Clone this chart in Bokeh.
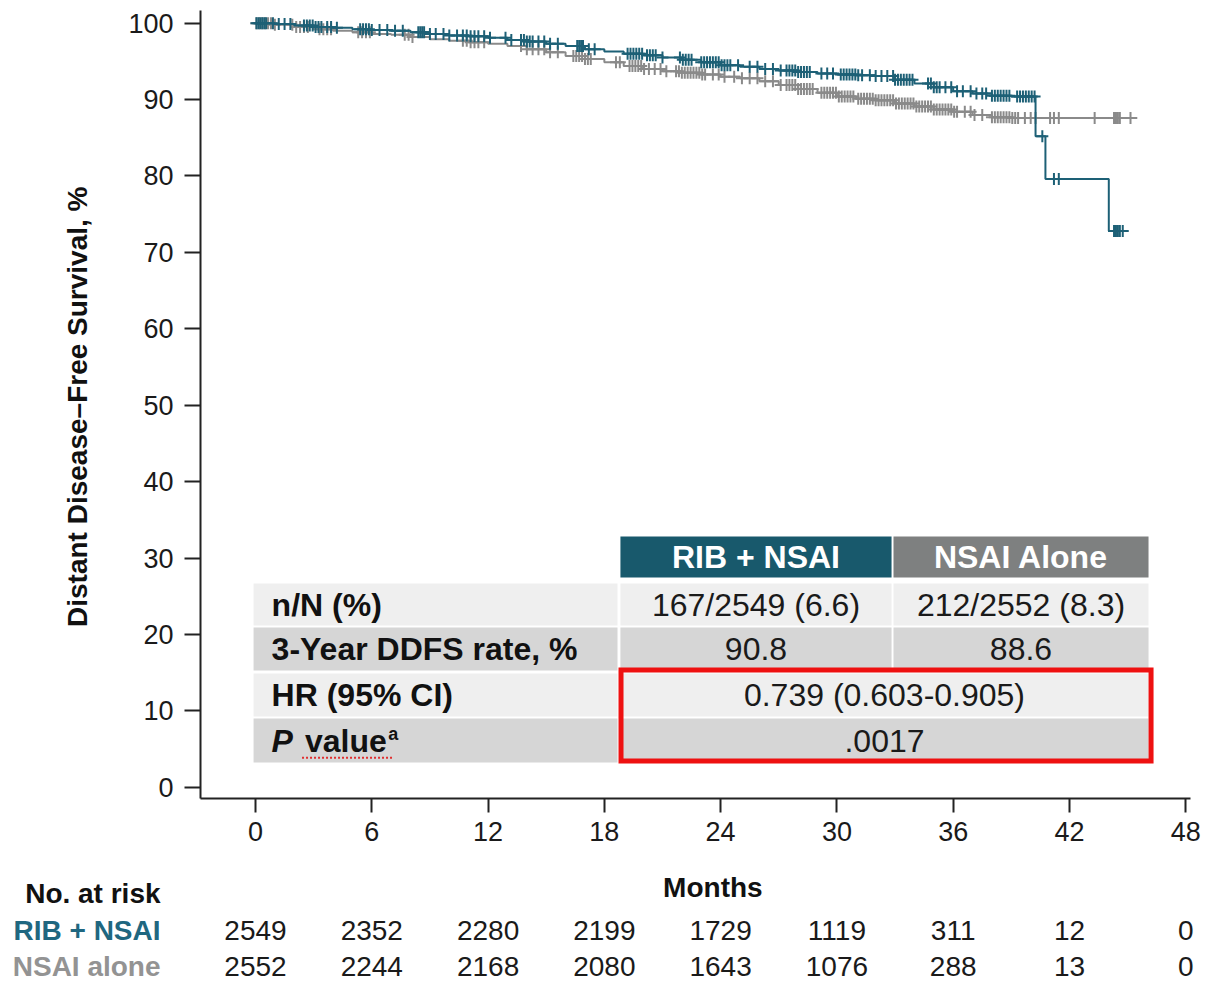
import numpy as np
from bokeh.plotting import figure
from bokeh.models import Range1d, FixedTicker
from bokeh.core.properties import value
from bokeh.embed import file_html
from bokeh.resources import INLINE

FONT = "Liberation Sans"
TEAL = "#1d6076"
TEAL_HDR = "#18596c"
GRAY = "#8a8a8a"
GRAY_HDR = "#7e8080"
TXT = "#1a1a1a"

# ---------------- data ----------------
x_ticks = [0, 6, 12, 18, 24, 30, 36, 42, 48]
y_ticks = [0, 10, 20, 30, 40, 50, 60, 70, 80, 90, 100]

risk_rib = [2549, 2352, 2280, 2199, 1729, 1119, 311, 12, 0]
risk_nsai = [2552, 2244, 2168, 2080, 1643, 1076, 288, 13, 0]

rib_time = [0, 1, 2, 3, 4, 5, 6, 7, 8, 9, 10, 11, 12, 13, 14, 15, 16, 17, 18, 19,
            20, 21, 22, 23, 24, 25, 26, 27, 28, 29, 30, 31, 32, 33, 34, 35, 36, 37,
            38, 39, 40.25, 40.76, 44.03]
rib_surv = [100, 99.9, 99.7, 99.5, 99.4, 99.2, 99.1, 99.0, 98.8, 98.6, 98.4, 98.3,
            98.1, 97.8, 97.6, 97.3, 97.0, 96.6, 96.3, 96.0, 95.8, 95.5, 95.2, 94.9,
            94.5, 94.3, 94.0, 93.8, 93.6, 93.4, 93.3, 93.2, 93.1, 92.6, 92.1, 91.6,
            91.1, 90.8, 90.5, 90.4, 85.2, 79.6, 72.8]
rib_end = 44.85

nsai_time = [0, 1, 2, 3, 4, 5, 6, 7, 8, 9, 10, 11, 12, 13, 14, 15, 16, 17, 18, 19,
             20, 21, 22, 23, 24, 25, 26, 27, 28, 29, 30, 31, 32, 33, 34, 35, 36, 37,
             38, 39]
nsai_surv = [100, 99.8, 99.5, 99.2, 99.0, 98.8, 98.6, 98.5, 98.2, 97.9, 97.7, 97.5,
             97.3, 97.0, 96.6, 96.2, 95.7, 95.3, 94.9, 94.4, 94.0, 93.7, 93.5, 93.3,
             93.0, 92.8, 92.4, 91.9, 91.4, 90.9, 90.4, 90.1, 89.9, 89.5, 89.1, 88.7,
             88.4, 88.0, 87.7, 87.6]
nsai_end = 45.5

rib_censor = [0.05, 0.15, 0.25, 0.35, 0.45, 0.55, 0.9, 1.2, 1.5, 1.8, 2.5, 2.65, 2.8,
              2.95, 3.1, 3.25, 3.4, 3.7, 3.9, 4.2, 5.4, 5.55, 5.7, 5.85, 6.0, 6.4, 6.8,
              7.2, 7.6, 8.4, 8.5, 8.6, 8.7, 9.0, 9.3, 9.7, 10.0, 10.4, 10.7, 10.9, 11.1,
              11.3, 11.5, 11.8, 12.1, 12.9, 13.2, 13.7, 13.85, 14.0, 14.15, 14.3, 14.6,
              14.9, 15.2, 15.6, 16.6, 16.7, 16.8, 16.9, 17.2, 17.5, 19.2, 19.35, 19.5,
              19.65, 19.8, 19.95, 20.2, 20.35, 20.5, 20.65, 21.0, 21.9, 22.05, 22.2,
              22.35, 22.5, 23.0, 23.15, 23.3, 23.45, 23.6, 23.75, 23.9, 24.05, 24.2,
              24.35, 24.5, 24.9, 25.5, 25.9, 26.3, 26.7, 27.1, 27.4, 27.55, 27.7, 27.85,
              28.0, 28.15, 28.3, 28.45, 28.6, 29.2, 29.5, 29.8, 30.2, 30.35, 30.5, 30.65,
              30.8, 30.95, 31.1, 31.3, 31.7, 32.0, 32.3, 32.6, 32.9, 33.0, 33.15, 33.3,
              33.45, 33.6, 33.75, 33.9, 34.7, 34.85, 35.0, 35.15, 35.3, 35.6, 35.9, 36.2,
              36.5, 36.9, 37.2, 37.5, 37.7, 38.0, 38.15, 38.3, 38.45, 38.6, 38.75, 38.9,
              39.3, 39.45, 39.6, 39.75, 39.9, 40.05, 40.2, 40.6, 41.2, 41.45, 44.3, 44.4,
              44.5, 44.6, 44.75]

nsai_censor = [0.05, 0.2, 0.35, 0.5, 0.65, 0.8, 1.0, 1.9, 2.1, 2.3, 2.5, 2.7, 3.3, 3.5,
               3.7, 3.9, 5.3, 5.5, 5.7, 5.9, 7.7, 7.9, 8.1, 10.7, 10.9, 11.1, 11.3, 11.5,
               11.8, 13.7, 14.0, 14.3, 14.6, 14.9, 15.2, 15.6, 16.4, 16.55, 16.7, 16.85,
               17.0, 17.15, 17.3, 18.6, 18.8, 19.3, 19.45, 19.6, 19.75, 19.9, 20.05, 20.3,
               20.6, 20.9, 21.2, 21.7, 21.85, 22.0, 22.15, 22.3, 22.45, 22.6, 22.75, 22.9,
               23.05, 23.2, 23.6, 23.9, 24.2, 24.7, 25.1, 25.5, 25.9, 26.3, 26.7, 27.1,
               27.4, 27.55, 27.7, 27.85, 28.0, 28.15, 28.3, 28.45, 28.6, 28.75, 29.2,
               29.35, 29.5, 29.65, 29.8, 29.95, 30.1, 30.25, 30.4, 30.55, 30.7, 30.85,
               31.1, 31.25, 31.4, 31.55, 31.7, 31.85, 32.0, 32.15, 32.3, 32.45, 32.6,
               32.75, 32.9, 33.05, 33.2, 33.35, 33.5, 33.65, 33.8, 33.95, 34.1, 34.25,
               34.4, 34.55, 34.7, 34.85, 35.0, 35.15, 35.3, 35.45, 35.6, 35.75, 35.9,
               36.05, 36.2, 36.6, 36.9, 37.1, 37.5, 38.0, 38.15, 38.3, 38.45, 38.6, 38.75,
               38.9, 39.05, 39.2, 39.35, 39.7, 40.0, 40.25, 41.0, 41.2, 41.45, 43.3, 44.3,
               44.4, 44.5, 44.6, 45.15]

tbl_header = ["RIB + NSAI", "NSAI Alone"]
tbl_labels = ["n/N (%)", "3-Year DDFS rate, %", "HR (95% CI)"]
tbl_rib = ["167/2549 (6.6)", "90.8"]
tbl_nsai = ["212/2552 (8.3)", "88.6"]
tbl_merged = ["0.739 (0.603-0.905)", ".0017"]

risk_row_labels = ["No. at risk", "RIB + NSAI", "NSAI alone"]

# ---------------- figure: frame covers the whole canvas ----------------
X0, X1 = -2.84, 48.24     # axis extents (months)
Y0, Y1 = -1.52, 101.6     # axis extents (%)
p = figure(width=1209, height=983, x_range=Range1d(-13.158, 49.226),
           y_range=Range1d(-25.69, 102.97), output_backend="svg",
           toolbar_location=None, min_border=0)
p.outline_line_color = None
p.grid.visible = False
p.background_fill_color = "white"
p.border_fill_color = "white"

p.xaxis.fixed_location = Y0
p.yaxis.fixed_location = X0
p.xaxis.bounds = (X0, X1)
p.yaxis.bounds = (Y0, Y1)
p.xaxis.ticker = FixedTicker(ticks=x_ticks)
p.yaxis.ticker = FixedTicker(ticks=y_ticks)
p.axis.axis_line_width = 2
p.axis.axis_line_color = "#222222"
p.axis.major_tick_line_width = 2
p.axis.major_tick_line_color = "#222222"
p.axis.major_tick_in = 0
p.axis.minor_tick_in = 0
p.axis.minor_tick_out = 0
p.xaxis.major_tick_out = 14
p.yaxis.major_tick_out = 16
p.axis.major_label_text_font = FONT
p.axis.major_label_text_font_size = "27px"
p.axis.major_label_text_color = TXT
p.yaxis.major_label_standoff = 11
p.xaxis.major_label_standoff = 9

# y axis title
p.text(x=[-9.2], y=[49.8], text=["Distant Disease\u2013Free Survival, %"],
       angle=np.pi / 2, text_align="center", text_baseline="middle",
       text_font=value(FONT), text_font_size="28px", text_font_style="bold",
       text_color="#111111")


def censor_y(times, surv, cens):
    idx = np.searchsorted(np.array(times), np.array(cens), side="right") - 1
    return list(np.array(surv)[idx])


# NSAI alone (gray) first, then RIB + NSAI on top
p.step(x=nsai_time + [nsai_end], y=nsai_surv + [nsai_surv[-1]], mode="after",
       line_color=GRAY, line_width=2)
p.scatter(x=nsai_censor, y=censor_y(nsai_time, nsai_surv, nsai_censor),
          marker="cross", size=12, line_color=GRAY, line_width=2)
p.step(x=rib_time + [rib_end], y=rib_surv + [rib_surv[-1]], mode="after",
       line_color=TEAL, line_width=2)
p.scatter(x=rib_censor, y=censor_y(rib_time, rib_surv, rib_censor),
          marker="cross", size=12, line_color=TEAL, line_width=2)

# ---------------- summary table (layout grid in data units) ----------------
col_l = [-0.10, 18.83, 32.92]
col_r = [18.68, 32.82, 46.08]
row_t = [32.81, 26.66, 20.90, 14.88, 8.99]
row_b = [27.45, 21.17, 15.27, 9.25, 3.23]
row_fill = ["#efefef", "#d6d6d6", "#efefef", "#d6d6d6"]

p.quad(left=col_l[1:], right=col_r[1:], top=[row_t[0]] * 2, bottom=[row_b[0]] * 2,
       fill_color=[TEAL_HDR, GRAY_HDR], line_color=None)
for i in range(2):
    p.quad(left=col_l, right=col_r, top=[row_t[i + 1]] * 3, bottom=[row_b[i + 1]] * 3,
           fill_color=row_fill[i], line_color=None)
for i in range(2, 4):
    p.quad(left=[col_l[0], col_l[1]], right=[col_r[0], col_r[2]],
           top=[row_t[i + 1]] * 2, bottom=[row_b[i + 1]] * 2,
           fill_color=row_fill[i], line_color=None)

row_mid = [(t + b) / 2 for t, b in zip(row_t, row_b)]
c1 = (col_l[1] + col_r[1]) / 2
c2 = (col_l[2] + col_r[2]) / 2
cm = (col_l[1] + col_r[2]) / 2
lab_x = 0.83

common = dict(text_font=value(FONT), text_font_size="32px", text_baseline="middle")
p.text(x=[c1, c2], y=[row_mid[0]] * 2, text=tbl_header, text_align="center",
       text_color="white", text_font_style="bold", **common)
p.text(x=[lab_x] * 3, y=row_mid[1:4], text=tbl_labels, text_align="left",
       text_color="#111111", text_font_style="bold", **common)
p.text(x=[lab_x], y=[row_mid[4]], text=["P"], text_align="left",
       text_color="#111111", text_font_style="bold italic", **common)
p.text(x=[2.55], y=[row_mid[4]], text=["value"], text_align="left",
       text_color="#111111", text_font_style="bold", **common)
p.text(x=[6.85], y=[row_mid[4] + 0.9], text=["a"], text_align="left",
       text_color="#111111", text_font_style="bold", text_font=value(FONT),
       text_font_size="18px", text_baseline="middle")
# red spell-check underline under "value"
p.segment(x0=[2.4], x1=[7.1], y0=[3.85], y1=[3.85], line_color="#e03030",
          line_width=2, line_dash="2 2")
p.text(x=[c1, c2], y=[row_mid[1]] * 2, text=[tbl_rib[0], tbl_nsai[0]],
       text_align="center", text_color=TXT, **common)
p.text(x=[c1, c2], y=[row_mid[2]] * 2, text=[tbl_rib[1], tbl_nsai[1]],
       text_align="center", text_color=TXT, **common)
p.text(x=[cm, cm], y=[row_mid[3], row_mid[4]], text=tbl_merged,
       text_align="center", text_color=TXT, **common)

# red highlight box
p.quad(left=[18.86], right=[46.21], top=[15.34], bottom=[3.43], fill_color=None,
       line_color="#ee1111", line_width=5, line_join="miter")

# ---------------- x title and number at risk ----------------
rc = dict(text_font=value(FONT), text_font_size="28px", text_baseline="middle")
RISK_Y = [-13.9, -18.7, -23.4]
p.text(x=[23.6], y=[-13.11], text=["Months"], text_align="center",
       text_color="#111111", text_font_style="bold", **rc)
p.text(x=[-4.9] * 3, y=RISK_Y, text=risk_row_labels, text_align="right",
       text_color=["#111111", "#1f6780", "#939393"], text_font_style="bold", **rc)
p.text(x=x_ticks, y=[RISK_Y[1]] * len(x_ticks), text=[str(v) for v in risk_rib],
       text_align="center", text_color=TXT, **rc)
p.text(x=x_ticks, y=[RISK_Y[2]] * len(x_ticks), text=[str(v) for v in risk_nsai],
       text_align="center", text_color=TXT, **rc)

open("out.html", "w").write(file_html(p, INLINE))
